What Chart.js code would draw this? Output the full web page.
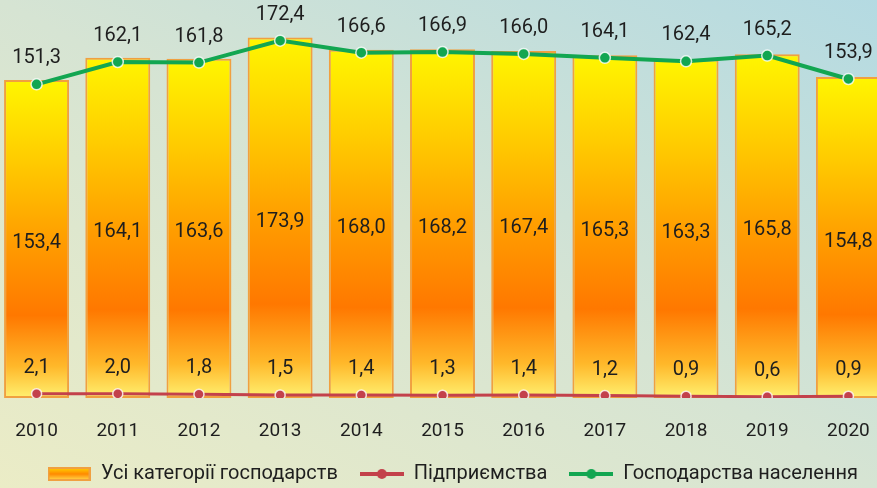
<!DOCTYPE html>
<html>
<head>
<meta charset="utf-8">
<script src="https://cdn.jsdelivr.net/npm/chart.js@4.4.0/dist/chart.umd.min.js"></script>
<style>
  html, body { margin: 0; padding: 0; width: 877px; height: 488px; overflow: hidden; }
  body { position: relative; background: linear-gradient(to top right, #ebecc6 0%, #d6e4d3 50%, #b4dae2 100%); }
  #wrap { position: absolute; left: -4px; top: 0; width: 893px; height: 488px; }
</style>
</head>
<body>
<div id="wrap"><canvas id="chart"></canvas></div>
<script>
// роки
const years = ['2010', '2011', '2012', '2013', '2014', '2015', '2016', '2017', '2018', '2019', '2020'];

// тис. т
const allFarms = [153.4, 164.1, 163.6, 173.9, 168.0, 168.2, 167.4, 165.3, 163.3, 165.8, 154.8];
const enterprises = [2.1, 2.0, 1.8, 1.5, 1.4, 1.3, 1.4, 1.2, 0.9, 0.6, 0.9];
const households = [151.3, 162.1, 161.8, 172.4, 166.6, 166.9, 166.0, 164.1, 162.4, 165.2, 153.9];

const seriesNames = ['Усі категорії господарств', 'Підприємства', 'Господарства населення'];

const textColor = '#1e1e1e';
const redColor = '#c3414b';
const greenColor = '#12a651';

// градієнт стовпчика (зверху вниз)
function barGradient(ctx, top, bottom) {
    const g = ctx.createLinearGradient(0, top, 0, bottom);
    g.addColorStop(0, '#fff600');
    g.addColorStop(0.25, '#ffcc00');
    g.addColorStop(0.5, '#ff9e00');
    g.addColorStop(0.74, '#ff7800');
    g.addColorStop(0.9, '#ffb82a');
    g.addColorStop(1, '#fff070');
    return g;
}

// іконки легенди
function makeBarIcon() {
    const c = document.createElement('canvas');
    c.width = 43; c.height = 14;
    const x = c.getContext('2d');
    const g = x.createLinearGradient(0, 1, 0, 13);
    g.addColorStop(0, '#ffd000');
    g.addColorStop(0.5, '#ff8a00');
    g.addColorStop(1, '#ffd84a');
    x.fillStyle = g;
    x.fillRect(1, 1, 41, 12);
    x.strokeStyle = '#f0a040';
    x.lineWidth = 2;
    x.strokeRect(1, 1, 41, 12);
    return c;
}

function makeLineIcon(color) {
    const c = document.createElement('canvas');
    c.width = 44; c.height = 12;
    const x = c.getContext('2d');
    x.strokeStyle = color;
    x.lineWidth = 4;
    x.beginPath();
    x.moveTo(0, 6);
    x.lineTo(44, 6);
    x.stroke();
    x.fillStyle = color;
    x.beginPath();
    x.arc(22, 6, 5, 0, Math.PI * 2);
    x.fill();
    return c;
}

const legendIcons = [makeBarIcon(), makeLineIcon(redColor), makeLineIcon(greenColor)];

function fmt(v) {
    return v.toFixed(1).replace('.', ',');
}

// підписи значень
const valueLabels = {
    id: 'valueLabels',
    afterDatasetsDraw(chart) {
        const ctx = chart.ctx;
        ctx.save();
        ctx.font = '20px Roboto';
        ctx.fillStyle = textColor;
        ctx.textAlign = 'center';
        ctx.textBaseline = 'middle';
        chart.data.datasets.forEach((ds, i) => {
            const meta = chart.getDatasetMeta(i);
            meta.data.forEach((el, j) => {
                let y;
                if (meta.type === 'bar') {
                    y = (el.y + el.base) / 2 + 4;
                } else {
                    y = el.y - 26;
                }
                ctx.fillText(fmt(ds.data[j]), el.x, y);
            });
        });
        ctx.restore();
    }
};

// легенда трохи правіше центру, як в оригіналі
const legendShift = {
    id: 'legendShift',
    afterLayout(chart) {
        if (chart.legend) {
            chart.legend.left += 10;
            chart.legend.right += 10;
        }
    }
};

new Chart(document.getElementById('chart'), {
    type: 'bar',
    data: {
        labels: years,
        datasets: [
            {
                label: seriesNames[0],
                data: allFarms,
                order: 3,
                backgroundColor: function(c) {
                    const chart = c.chart;
                    if (!chart.chartArea || c.type !== 'data') return '#ff9e00';
                    const y = chart.scales.y;
                    return barGradient(chart.ctx, y.getPixelForValue(c.raw), y.getPixelForValue(0));
                },
                borderColor: '#f0a040',
                borderWidth: 2,
                borderSkipped: false,
                barPercentage: 0.8,
                categoryPercentage: 1
            },
            {
                type: 'line',
                label: seriesNames[1],
                data: enterprises,
                order: 2,
                borderColor: redColor,
                borderWidth: 3,
                pointRadius: 5,
                pointBackgroundColor: redColor,
                pointBorderColor: 'rgba(255,255,255,0.8)',
                pointBorderWidth: 1.5
            },
            {
                type: 'line',
                label: seriesNames[2],
                data: households,
                order: 1,
                borderColor: greenColor,
                borderWidth: 4,
                pointRadius: 5.5,
                pointBackgroundColor: greenColor,
                pointBorderColor: 'rgba(255,255,255,0.8)',
                pointBorderWidth: 1.5
            }
        ]
    },
    options: {
        responsive: true,
        maintainAspectRatio: false,
        animation: false,
        layout: {
            autoPadding: false,
            padding: { top: 0, left: 0, right: 0, bottom: -6 }
        },
        plugins: {
            tooltip: { enabled: false },
            legend: {
                position: 'bottom',
                labels: {
                    usePointStyle: true,
                    pointStyleWidth: 44,
                    color: textColor,
                    font: { family: 'Roboto', size: 20 },
                    padding: 22,
                    sort: (a, b) => a.datasetIndex - b.datasetIndex,
                    generateLabels(chart) {
                        const items = Chart.defaults.plugins.legend.labels.generateLabels(chart);
                        items.forEach(it => {
                            it.pointStyle = legendIcons[it.datasetIndex];
                        });
                        return items;
                    }
                }
            }
        },
        scales: {
            x: {
                grid: { display: false, tickLength: 23 },
                border: { display: false },
                ticks: {
                    color: textColor,
                    font: { family: 'Roboto', size: 19, lineHeight: 1 },
                    padding: 1
                }
            },
            y: {
                display: false,
                min: 0,
                max: 192
            }
        }
    },
    plugins: [valueLabels, legendShift]
});
</script>
</body>
</html>
